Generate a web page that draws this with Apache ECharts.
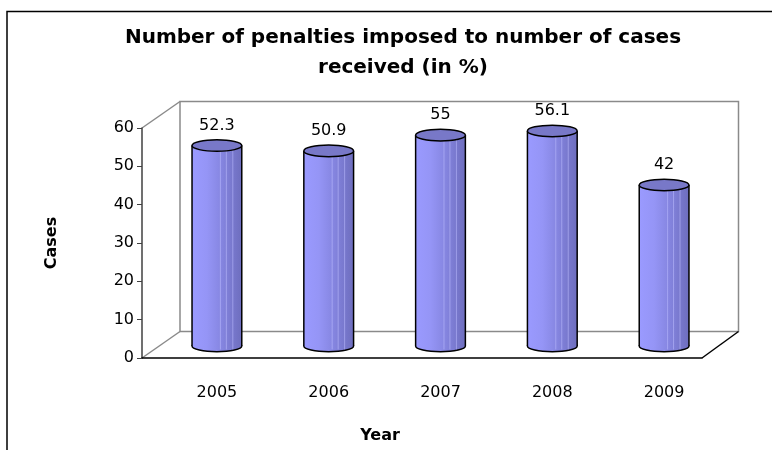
<!DOCTYPE html>
<html>
<head>
<meta charset="utf-8">
<script src="https://cdn.jsdelivr.net/npm/echarts@6/dist/echarts.min.js"></script>
<style>
html,body{margin:0;padding:0;background:#fff;}
#chart{width:772px;height:450px;}
</style>
</head>
<body>
<div id="chart"></div>
<script>
// ---- data ----
const categories = ['2005', '2006', '2007', '2008', '2009'];
const values = [52.3, 50.9, 55, 56.1, 42];
const yMin = 0, yMax = 60, yInterval = 10;
const titleText = 'Number of penalties imposed to number of cases\nreceived (in %)';
const xName = 'Year';
const yName = 'Cases';

// ---- layout (pixels) ----
const W = 772, H = 450;
const front = {left: 142, top: 128, right: 702, bottom: 358};
const back = {left: 180, top: 101.5, right: 738.5, bottom: 331.5};
const mid = {left: 161, top: 116, right: 720, bottom: 346};
const FONT = 'DejaVu Sans';

const chart = echarts.init(document.getElementById('chart'), null, {renderer: 'canvas'});

function bodyGradient() {
  return new echarts.graphic.LinearGradient(0, 0, 1, 0, [
    {offset: 0, color: '#9a9aff'},
    {offset: 0.3, color: '#9595f6'},
    {offset: 0.6, color: '#8585e0'},
    {offset: 0.85, color: '#7676ca'},
    {offset: 1, color: '#6e6ebe'}
  ]);
}

function renderItem(params, api) {
  const idx = api.value(0);
  const top = api.coord([idx, api.value(1)]);
  const base = api.coord([idx, 0]);
  const w = api.size([1, 0])[0] * 0.445;
  const rx = w / 2, ry = 5.8;
  const cx = top[0];
  const children = [];
  children.push({
    type: 'ellipse',
    shape: {cx: cx, cy: base[1], rx: rx, ry: ry},
    style: {fill: bodyGradient(), stroke: '#000', lineWidth: 1.5}
  });
  children.push({
    type: 'rect',
    shape: {x: cx - rx, y: top[1], width: w, height: base[1] - top[1]},
    style: {fill: bodyGradient()}
  });
  [0.57, 0.69, 0.82].forEach(function (f) {
    children.push({
      type: 'line',
      shape: {x1: cx - rx + w * f, y1: top[1], x2: cx - rx + w * f, y2: base[1] + ry * 0.6},
      style: {stroke: 'rgba(190,190,255,0.55)', lineWidth: 1}
    });
  });
  children.push({
    type: 'line',
    shape: {x1: cx - rx, y1: top[1], x2: cx - rx, y2: base[1]},
    style: {stroke: '#000', lineWidth: 1.5}
  });
  children.push({
    type: 'line',
    shape: {x1: cx + rx, y1: top[1], x2: cx + rx, y2: base[1]},
    style: {stroke: '#000', lineWidth: 1.5}
  });
  children.push({
    type: 'ellipse',
    shape: {cx: cx, cy: top[1], rx: rx, ry: ry},
    style: {fill: '#7878c8', stroke: '#000', lineWidth: 1.5}
  });
  children.push({
    type: 'text',
    style: {
      x: cx, y: top[1] - 20,
      text: String(values[idx]),
      align: 'center', verticalAlign: 'middle',
      fill: '#000', font: '16px "' + FONT + '"'
    }
  });
  return {type: 'group', children: children};
}

const option = {
  animation: false,
  backgroundColor: '#fff',
  title: [
    {
      text: titleText,
      left: 398, top: 18, textAlign: 'center',
      textStyle: {fontFamily: FONT, fontWeight: 'bold', fontSize: 20, lineHeight: 30, color: '#000'}
    },
    {
      text: xName,
      left: 375, top: 423, textAlign: 'center',
      textStyle: {fontFamily: FONT, fontWeight: 'bold', fontSize: 16, color: '#000'}
    }
  ],
  grid: [
    {left: front.left, top: front.top, width: front.right - front.left, height: front.bottom - front.top},
    {left: back.left, top: back.top, width: back.right - back.left, height: back.bottom - back.top,
      show: true, borderColor: '#8a8a8a', borderWidth: 1.5, backgroundColor: 'transparent'},
    {left: mid.left, top: mid.top, width: mid.right - mid.left, height: mid.bottom - mid.top}
  ],
  xAxis: [
    {gridIndex: 0, type: 'category', data: categories,
      axisLine: {show: true, lineStyle: {color: '#000', width: 1.5}},
      axisTick: {show: false}, axisLabel: {show: false}},
    {gridIndex: 1, type: 'category', data: categories, show: false},
    {gridIndex: 2, type: 'category', data: categories,
      axisLine: {show: false}, axisTick: {show: false},
      axisLabel: {show: true, margin: 39, fontSize: 16, color: '#000', fontFamily: FONT}}
  ],
  yAxis: [
    {gridIndex: 0, type: 'value', min: yMin, max: yMax, interval: yInterval,
      axisLine: {show: true, lineStyle: {color: '#404040', width: 1.5}},
      axisTick: {show: true, length: 5, lineStyle: {color: '#404040', width: 1}},
      axisLabel: {fontSize: 16, color: '#000', margin: 8, fontFamily: FONT},
      splitLine: {show: false},
      name: yName, nameLocation: 'middle', nameRotate: 90, nameGap: 82,
      nameTextStyle: {fontFamily: FONT, fontWeight: 'bold', fontSize: 16, color: '#000'}},
    {gridIndex: 1, type: 'value', min: yMin, max: yMax, show: false},
    {gridIndex: 2, type: 'value', min: yMin, max: yMax, interval: yInterval, show: false}
  ],
  graphic: [
    {type: 'rect', shape: {x: 7, y: 11.5, width: 900, height: 600},
      style: {fill: null, stroke: '#000', lineWidth: 1.5}, silent: true},
    {type: 'line', shape: {x1: front.left, y1: front.top, x2: back.left, y2: back.top},
      style: {stroke: '#8a8a8a', lineWidth: 1.5}, silent: true},
    {type: 'line', shape: {x1: front.left, y1: front.bottom, x2: back.left, y2: back.bottom},
      style: {stroke: '#8a8a8a', lineWidth: 1.5}, silent: true},
    {type: 'line', shape: {x1: front.right, y1: front.bottom, x2: back.right, y2: back.bottom},
      style: {stroke: '#000', lineWidth: 1.5}, silent: true}
  ],
  series: [
    {
      type: 'custom',
      xAxisIndex: 2, yAxisIndex: 2,
      renderItem: renderItem,
      data: values.map(function (v, i) { return [i, v]; }),
      z: 5
    }
  ]
};
chart.setOption(option);
</script>
</body>
</html>
